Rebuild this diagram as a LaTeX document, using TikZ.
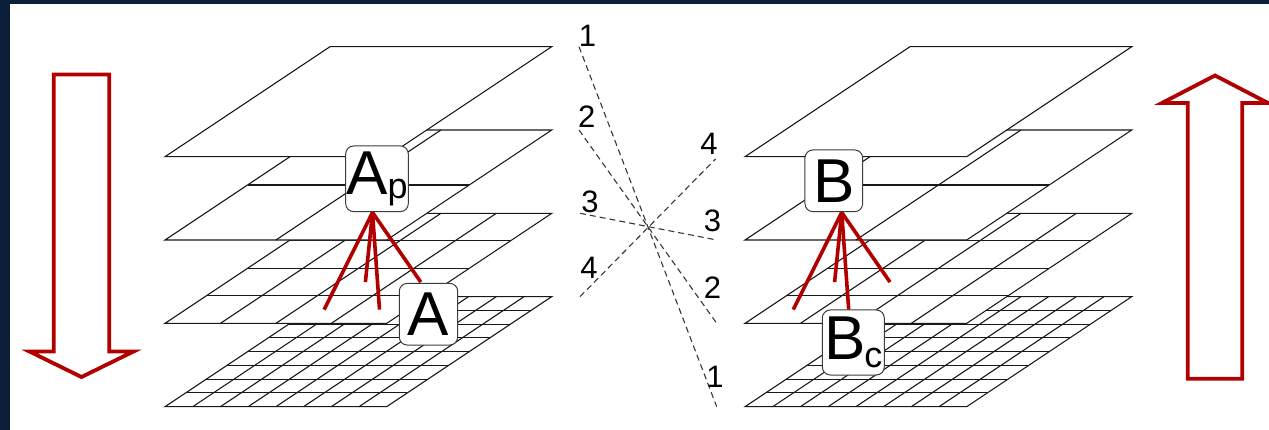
\documentclass[tikz,border=0pt]{standalone}
\usepackage{fontspec}
\setmainfont{Liberation Sans}
\definecolor{framenavy}{RGB}{11,31,58}
\definecolor{linkred}{RGB}{178,0,0}
\definecolor{ink}{RGB}{25,25,25}
\definecolor{dashgray}{RGB}{55,55,55}

% One level of a multigrid stack: a white parallelogram split into n x n cells.
% #1 x offset of the stack, #2 level (0 = top), #3 cells per side
\newcommand\GridLayer[3]{%
  \begin{scope}[shift={({#1+165},{156.7+83.33*#2})}]
    \filldraw[plate] (0,0) -- (221.7,0) -- (386.7,-110) -- (165,-110) -- cycle;
    \ifnum#3>1
      \pgfmathtruncatemacro\lastcut{#3-1}
      \foreach \i in {1,...,\lastcut}{
        \draw[gridline] ({221.7*\i/#3},0) -- ({165+221.7*\i/#3},-110);
        \draw[gridline] ({165*\i/#3},{-110*\i/#3}) -- ({221.7+165*\i/#3},{-110*\i/#3});
      }
    \fi
  \end{scope}}

\begin{document}
\begin{tikzpicture}[x=1pt,y=-1pt,
  plate/.style={draw=ink, line width=1.1pt, fill=white},
  gridline/.style={draw=ink, line width=1.1pt},
  bigarrow/.style={draw=linkred, line width=3.8pt, fill=white},
  link/.style={draw=linkred, line width=3.6pt},
  order/.style={draw=dashgray, line width=1.1pt, dash pattern=on 6pt off 4pt},
  num/.style={inner sep=0pt, font=\fontsize{31}{31}\selectfont},
  cellbox/.style={draw=ink!85, line width=1pt, fill=white, rounded corners=8pt,
                  inner sep=0pt, font=\fontsize{62}{62}\selectfont}]

  \useasboundingbox (0,0) rectangle (1269,430);
  \clip (0,0) rectangle (1269,430);
  \fill[framenavy] (0,0) rectangle (1269,430);
  \fill[white] (10,4.5) rectangle (1269,430);

  % restriction: fine to coarse (left stack)
  \GridLayer{0}{3}{8}
  \GridLayer{0}{2}{4}
  \GridLayer{0}{1}{2}
  \GridLayer{0}{0}{1}

  % prolongation: coarse to fine (right stack)
  \GridLayer{580}{3}{8}
  \GridLayer{580}{2}{4}
  \GridLayer{580}{1}{2}
  \GridLayer{580}{0}{1}

  % direction arrows
  \draw[bigarrow] (53.7,74.5) -- (109.2,74.5) -- (109.2,351.5) -- (133.5,351.5)
    -- (81.5,377) -- (29.5,351.5) -- (53.7,351.5) -- cycle;
  \draw[bigarrow] (1187.8,378.7) -- (1242.2,378.7) -- (1242.2,103) -- (1268,103)
    -- (1215,75.5) -- (1162,103) -- (1187.8,103) -- cycle;

  % level ordering between the two stacks
  \coordinate (L1) at (579,46.7);
  \coordinate (L2) at (579,130);
  \coordinate (L3) at (580,213.3);
  \coordinate (L4) at (580,296.7);
  \coordinate (R1) at (716.7,406.7);
  \coordinate (R2) at (716.7,323.3);
  \coordinate (R3) at (716.7,240);
  \coordinate (R4) at (715.5,159);
  \foreach \k in {1,...,4} \draw[order] (L\k) -- (R\k);

  \node[num] (nl1) at (587.5,35.5) {1};
  \node[num] (nl2) at (586.7,117) {2};
  \node[num] (nl3) at (590,201.7) {3};
  \node[num] (nl4) at (589,268) {4};
  \node[num] (nr4) at (709,144) {4};
  \node[num] (nr3) at (712.5,221) {3};
  \node[num] (nr2) at (712.5,287.5) {2};
  \node[num] (nr1) at (715,377) {1};

  % parent cell and its four children, left stack
  \coordinate (pa) at (372.5,212.5);
  \coordinate (ca1) at (324.1,309.6);
  \coordinate (ca2) at (365.4,282.1);
  \coordinate (ca3) at (379.5,309.6);
  \coordinate (ca4) at (420.8,282.1);
  \foreach \c in {ca1,ca2,ca3,ca4} \draw[link] (pa) -- (\c);

  % parent cell and its four children, right stack
  \coordinate (pb) at (841.7,212.5);
  \coordinate (cb1) at (793.3,309.6);
  \coordinate (cb2) at (834.6,282.1);
  \coordinate (cb3) at (848.7,309.6);
  \coordinate (cb4) at (890,282.1);
  \foreach \c in {cb1,cb2,cb3,cb4} \draw[link] (pb) -- (\c);

  % cell labels
  \node[cellbox, minimum width=62.6pt, minimum height=65.7pt] (Ap) at (377,178.8)
    {A\raisebox{-4.5pt}{\fontsize{36}{36}\selectfont p}};
  \node[cellbox, minimum width=58.4pt, minimum height=61.7pt] (A) at (428.5,314.2) {A};
  \node[cellbox, minimum width=57.7pt, minimum height=61.7pt] (B) at (833.8,180.8) {B};
  \node[cellbox, minimum width=62pt, minimum height=65pt] (Bc) at (853.3,342.5)
    {B\kern-1pt\raisebox{-8pt}{\fontsize{36}{36}\selectfont c}};
\end{tikzpicture}
\end{document}
